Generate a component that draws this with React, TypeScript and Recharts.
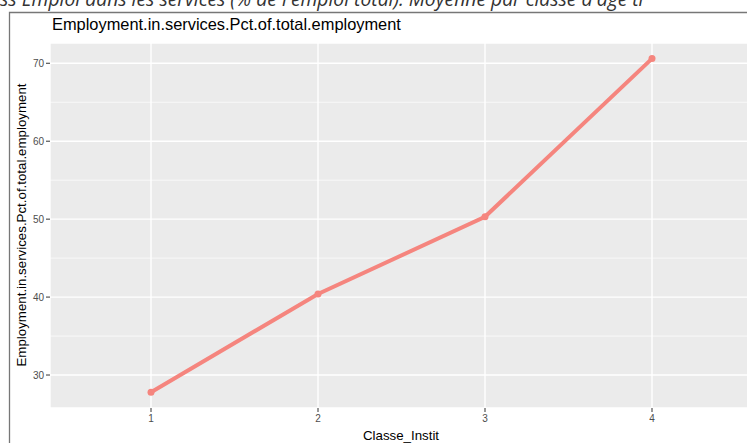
import { LineChart, Line, XAxis, YAxis, CartesianGrid, ReferenceLine } from 'recharts';

const classes = ['1', '2', '3', '4'];
const servicesPct = [27.8, 40.4, 50.3, 70.6];
const yTicks = [30, 40, 50, 60, 70];
const yMinor = [35, 45, 55, 65];

const chartData = classes.map((c, i) => ({ classe: c, value: servicesPct[i] }));

const FONT = '"Liberation Sans", Arial, Helvetica, sans-serif';
const LINE_COLOR = '#f5857e';

export default function App() {
  return (
    <div
      style={{
        position: 'fixed',
        top: 0,
        left: 0,
        width: 747,
        height: 443,
        overflow: 'hidden',
        background: '#fff',
      }}
    >
      <LineChart
        width={800}
        height={443}
        data={chartData}
        margin={{ top: 43, right: 48, bottom: 0, left: 8 }}
      >
        <CartesianGrid fill="#ebebeb" fillOpacity={1} stroke="#ffffff" strokeWidth={1.4} />
        {yMinor.map((v) => (
          <ReferenceLine key={v} y={v} stroke="#ffffff" strokeWidth={0.7} />
        ))}
        <XAxis
          dataKey="classe"
          type="category"
          height={35}
          padding={{ left: 101, right: 100 }}
          axisLine={false}
          tickSize={4}
          tickMargin={3}
          tickLine={{ stroke: '#333333' }}
          tick={{ fill: '#4d4d4d', fontSize: 10, fontFamily: FONT }}
        />
        <YAxis
          type="number"
          width={42}
          domain={[25.77, 72.6]}
          ticks={yTicks}
          allowDataOverflow
          axisLine={false}
          tickSize={4}
          tickMargin={2}
          tickLine={{ stroke: '#333333' }}
          tick={{ fill: '#4d4d4d', fontSize: 10, fontFamily: FONT }}
        />
        <Line
          type="linear"
          dataKey="value"
          stroke={LINE_COLOR}
          strokeWidth={4}
          dot={{ r: 3.5, fill: LINE_COLOR, stroke: LINE_COLOR, strokeWidth: 0 }}
          isAnimationActive={false}
        />
      </LineChart>

      <svg
        width={747}
        height={443}
        style={{ position: 'absolute', top: 0, left: 0, pointerEvents: 'none' }}
      >
        {/* caption from the page above, cut off by the screenshot */}
        <text
          x={0}
          y={6}
          fontFamily='"Open Sans", sans-serif'
          fontStyle="italic"
          fontSize={19.3}
          fill="#333333"
        >
          ss Emploi dans les services (% de l'emploi total). Moyenne par classe d'âge ti
        </text>
        <path d="M9.5,443 V12.5 H747" fill="none" stroke="#777777" strokeWidth={1.3} />
        <text x={52} y={30} fontFamily={FONT} fontSize={16.4} fill="#000000">
          Employment.in.services.Pct.of.total.employment
        </text>
        <text
          transform="translate(26,225) rotate(-90)"
          textAnchor="middle"
          fontFamily={FONT}
          fontSize={13.3}
          fill="#000000"
        >
          Employment.in.services.Pct.of.total.employment
        </text>
        <text x={401} y={440} textAnchor="middle" fontFamily={FONT} fontSize={13.3} fill="#000000">
          Classe_Instit
        </text>
      </svg>
    </div>
  );
}
